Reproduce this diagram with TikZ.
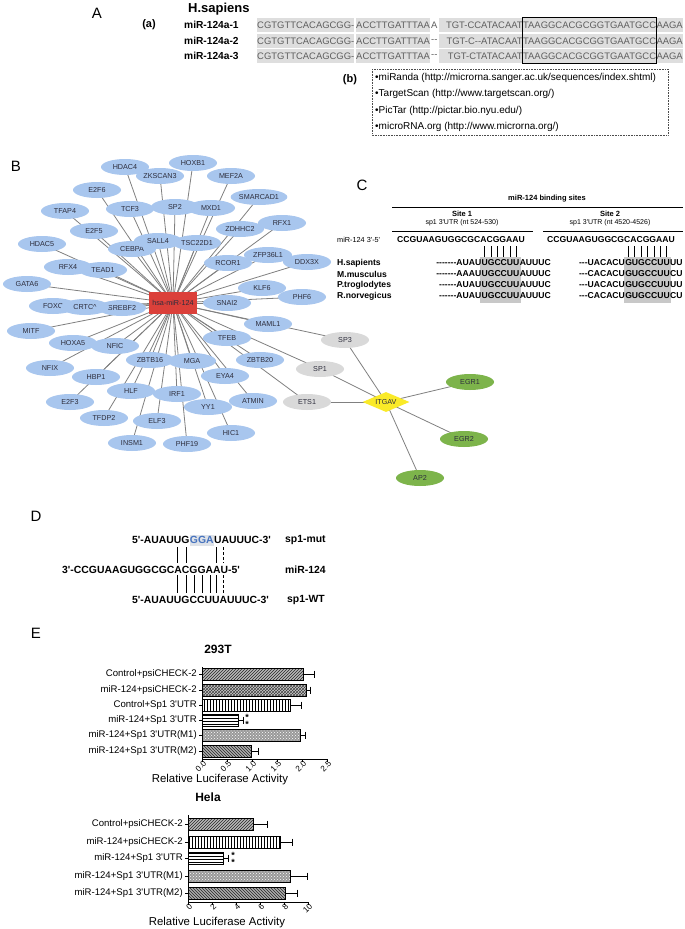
\documentclass[tikz,border=0pt]{standalone}
\usepackage{fontspec}
\setmainfont{Liberation Sans}[Ligatures=TeXOff]
\usetikzlibrary{shapes.geometric,patterns,calc}
\pgfdeclarelayer{back}
\pgfdeclarelayer{bg}
\pgfsetlayers{back,bg,main}
\newcommand{\myfs}[1]{\fontsize{#1}{#1}\selectfont}
\newcommand{\myq}{\textquotesingle}
\definecolor{nblue}{RGB}{168,198,238}
\definecolor{nred}{RGB}{219,64,58}
\definecolor{ngrey}{RGB}{217,217,217}
\definecolor{ngreen}{RGB}{125,180,75}
\definecolor{nyellow}{RGB}{250,234,40}
\definecolor{ntext}{RGB}{45,45,60}
\definecolor{edgec}{RGB}{128,128,128}
\definecolor{seqbg}{RGB}{222,222,222}
\definecolor{seqtext}{RGB}{95,95,95}
\definecolor{cbox}{RGB}{200,200,200}
\definecolor{mutblue}{RGB}{70,115,190}
\definecolor{mutbg}{RGB}{222,226,232}
\newcommand{\seqrow}[4]{%
 \node[seqs, fill=seqbg] (#1a) at (257,#2) {CGTGTTCACAGCGG-};
 \node[seqs, fill=seqbg] (#1b) at ([xshift=1.5]#1a.east) {ACCTTGATTTAA};
 \node[seqs, minimum width=8] (#1c) at (#1b.east) {#3};
 \node[seqs, fill=seqbg, text width=84, align=right] (#1d) at (#1c.east) {#4};
 \node[seqs, fill=seqbg] (#1e) at (#1d.east) {TAAGGCACGCGGTGAATGCC};
 \node[seqs, fill=seqbg] (#1f) at (#1e.east) {AAGA};}
\newcommand{\lucbar}[5]{%
  \path[#5] (#1,#2-6) rectangle (#3,#2+6);
  \draw[line width=0.8] (#1,#2-6) rectangle (#3,#2+6);
  \draw[line width=1] (#3,#2) -- (#4,#2) (#4,#2-3.5) -- (#4,#2+3.5);}
\begin{document}
\begin{tikzpicture}[x=1pt,y=-1pt,
  gn/.style={ellipse, fill=nblue, minimum width=48, minimum height=16, inner sep=0, font=\myfs{7.2}, text=ntext},
  grn/.style={gn, fill=ngrey},
  ggn/.style={gn, fill=ngreen},
  edge/.style={draw=edgec, line width=0.8},
  plab/.style={font=\myfs{15}, inner sep=0},
  seqs/.style={font=\myfs{9.45}, text=seqtext, inner xsep=0, inner ysep=0, minimum height=14, anchor=west},
  rowlab/.style={font=\bfseries\myfs{10.2}, anchor=west, inner sep=0},
  bitem/.style={font=\myfs{10}, anchor=west, inner sep=0},
  cs/.style={font=\bfseries\myfs{8.6}, inner sep=0, minimum height=10.5},
  dseq/.style={font=\bfseries\myfs{10.4}, inner sep=0},
  cat/.style={font=\myfs{9.6}, anchor=east, inner sep=0},
  tickl/.style={font=\myfs{8.2}, anchor=east, rotate=45, inner sep=0},
  pa/.style={preaction={fill=gray!55}, pattern=north east lines, pattern color=black!85},
  pb/.style={preaction={fill=gray!40}, pattern=crosshatch, pattern color=black!75},
  pc/.style={pattern=vertical lines},
  pd/.style={pattern=horizontal lines},
  pe/.style={preaction={fill=gray!80}, pattern=crosshatch dots, pattern color=white},
  pf/.style={preaction={fill=gray!65}, pattern=north west lines, pattern color=black!85}]
\useasboundingbox (0,0) rectangle (685,929);
\begin{pgfonlayer}{back}
\fill[white] (0,0) rectangle (685,929);
\end{pgfonlayer}

% ---------------- Panel A
\node[plab] (lA) at (97,13) {A};
\node[font=\bfseries\myfs{13}, anchor=west, inner sep=0] (hs) at (188,9) {H.sapiens};
\node[font=\bfseries\myfs{11}, inner sep=0] (pa) at (149,25) {(a)};
\node[rowlab] (l1) at (184,25) {miR-124a-1};
\node[rowlab] (l2) at (184,41) {miR-124a-2};
\node[rowlab] (l3) at (184,56) {miR-124a-3};
\seqrow{ra}{25}{A}{TGT-CCATACAAT}
\seqrow{rb}{41}{--}{TGT-C--ATACAAT}
\seqrow{rc}{56}{--}{TGT-CTATACAAT}
\draw[line width=0.9] (rae.north west) rectangle (rce.south east);
\node[font=\bfseries\myfs{11}, inner sep=0] (pb) at (350,80) {(b)};
\draw[densely dotted, line width=0.6, black!70] (372,69) rectangle (668,135);
\node[bitem] (b1) at (375,78) {•miRanda (http://microrna.sanger.ac.uk/sequences/index.shtml)};
\node[bitem] (b2) at (375,94) {•TargetScan (http://www.targetscan.org/)};
\node[bitem] (b3) at (375,110.5) {•PicTar (http://pictar.bio.nyu.edu/)};
\node[bitem] (b4) at (375,127) {•microRNA.org (http://www.microrna.org/)};

% ---------------- Panel B
\node[plab] (lB) at (16,166) {B};
\foreach \n/\x/\y in {HDAC4/125/167, ZKSCAN3/160/176, HOXB1/193/163, MEF2A/231/176,
  E2F6/97/190, SMARCAD1/259/197, TCF3/130/209, SP2/175/207, MXD1/211/208, TFAP4/65/211,
  RFX1/282/223, ZDHHC2/240/229, E2F5/94/231, HDAC5/42/244, CEBPA/132/249, SALL4/158/241,
  TSC22D1/197/243, ZFP36L1/268/255, DDX3X/307/262, RCOR1/228/263, RFX4/68/267, TEAD1/103/270,
  GATA6/27/284, KLF6/262/288, PHF6/302/297, SNAI2/227/303, FOXC/53/306, SREBF2/122/308,
  MAML1/268/324, MITF/31/331, TFEB/227/338, HOXA5/73/343, NFIC/115/346, ZBTB16/150/360,
  MGA/192/361, ZBTB20/260/360, NFIX/50/368, HBP1/96/377, EYA4/225/376, HLF/131/391,
  IRF1/177/394, E2F3/70/402, ATMIN/253/401, YY1/208/407, TFDP2/104/418, ELF3/157/421,
  HIC1/231/433, INSM1/132/443, PHF19/187/444}
  \node[gn] (\n) at (\x,\y) {\n};
\node[gn] (CRTC) at (85,307) {CRTC\textasciicircum};
\node[rectangle, fill=nred, minimum width=48, minimum height=22, inner sep=0, font=\myfs{7.2}, text=ntext] (mir) at (173,303) {hsa-miR-124};
\node[grn] (SP3) at (345,340) {SP3};
\node[grn] (SP1) at (320,369) {SP1};
\node[grn] (ETS1) at (307,402) {ETS1};
\node[diamond, aspect=2.3, fill=nyellow, minimum width=47, minimum height=20, inner sep=0, font=\myfs{7.2}, text=ntext] (ITGAV) at (386,402) {ITGAV};
\node[ggn] (EGR1) at (470,382) {EGR1};
\node[ggn] (EGR2) at (464,439) {EGR2};
\node[ggn] (AP2) at (420,478) {AP2};
\begin{pgfonlayer}{bg}
\foreach \n in {HDAC4, ZKSCAN3, HOXB1, MEF2A, E2F6, SMARCAD1, TCF3, SP2, MXD1, TFAP4,
  RFX1, ZDHHC2, E2F5, HDAC5, CEBPA, SALL4, TSC22D1, ZFP36L1, DDX3X, RCOR1, RFX4, TEAD1,
  GATA6, KLF6, PHF6, SNAI2, FOXC, CRTC, SREBF2, MAML1, MITF, TFEB, HOXA5, NFIC, ZBTB16,
  MGA, ZBTB20, NFIX, HBP1, EYA4, HLF, IRF1, E2F3, ATMIN, YY1, TFDP2, ELF3, HIC1, INSM1,
  PHF19, SP3, SP1, ETS1}
  \draw[edge] (mir.center) -- (\n.center);
\foreach \n in {SP3, SP1, ETS1, EGR1, EGR2, AP2}
  \draw[edge] (ITGAV.center) -- (\n.center);
\end{pgfonlayer}

% ---------------- Panel C
\node[plab] (lC) at (362,185) {C};
\node[font=\bfseries\myfs{7.5}] (cth) at (547,199) {miR-124 binding sites};
\draw[line width=0.8] (392,207) -- (683,207);
\node[font=\bfseries\myfs{7.5}] (st1) at (462,213.5) {Site 1};
\node[font=\myfs{7}] (st1b) at (462,222.5) {sp1 3\myq UTR (nt 524-530)};
\node[font=\bfseries\myfs{7.5}] (st2) at (610,213.5) {Site 2};
\node[font=\myfs{7}] (st2b) at (610,222.5) {sp1 3\myq UTR (nt 4520-4526)};
\draw[line width=0.8] (392,231) -- (533,231);
\draw[line width=0.8] (543,231) -- (683,231);
\node[font=\myfs{7.3}, anchor=west, inner sep=0] (cmirl) at (337,240) {miR-124 3\myq-5\myq};
\node[cs, anchor=west] (cm1) at (397,240) {CCGUAAGUGGCGCACGGAAU};
\node[cs, anchor=west] (cm2) at (547,240) {CCGUAAGUGGCGCACGGAAU};
\foreach \s/\y [count=\k] in {H.sapients/263, M.musculus/274, P.troglodytes/285, R.norvegicus/296}
  \node[cs, anchor=west] (sp\k) at (337,\y) {\s};
\foreach \k/\y/\pre in {1/263/-------AUAU, 2/274/-------AAAU, 3/285/------AUAU, 4/296/------AUAU} {
  \node[cs] (sa\k) at (500.5,\y) {UGCCUU};
  \node[cs, anchor=east] (sap\k) at (sa\k.west) {\pre};
  \node[cs, anchor=west] (sas\k) at (sa\k.east) {AUUUC};}
\foreach \k/\y/\pre/\suf in {1/263/---UACACU/UU, 2/274/---CACACU/CU, 3/285/---UACACU/UU, 4/296/---CACACU/CU} {
  \node[cs] (sb\k) at (647.5,\y) {GUGCCUU};
  \node[cs, anchor=east] (sbp\k) at (sb\k.west) {\pre};
  \node[cs, anchor=west] (sbs\k) at (sb\k.east) {\suf};}
\begin{pgfonlayer}{bg}
\fill[cbox] ([xshift=-1]sa1.west |- 0,257) rectangle ([xshift=1]sa4.east |- 0,303);
\fill[cbox] ([xshift=-1]sb1.west |- 0,257) rectangle ([xshift=1]sb4.east |- 0,303);
\end{pgfonlayer}
\foreach \i [evaluate=\i as \f using (\i-0.5)/6] in {1,...,6} {
  \path ($(sa1.west)!\f!(sa1.east)$) coordinate (ta\i);
  \draw[line width=0.7] (ta\i |- 0,246) -- (ta\i |- 0,257);}
\foreach \i [evaluate=\i as \f using (\i-0.5)/7] in {1,...,7} {
  \path ($(sb1.west)!\f!(sb1.east)$) coordinate (tb\i);
  \draw[line width=0.7] (tb\i |- 0,246) -- (tb\i |- 0,257);}

% ---------------- Panel D
\node[plab] (lD) at (36,516) {D};
\node[dseq, anchor=west] (dm1) at (132,540) {5\myq-AUAUUG};
\node[dseq, anchor=west, text=mutblue, fill=mutbg, minimum height=11] (dm2) at (dm1.east) {GGA};
\node[dseq, anchor=west] (dm3) at (dm2.east) {UAUUUC-3\myq};
\node[dseq, anchor=west] (dml) at (285,540) {sp1-mut};
\node[dseq, anchor=west] (dmir) at (62,570) {3\myq-CCGUAAGUGGCGCACGGAAU-5\myq};
\node[dseq, anchor=west] (dmirl) at (285,570) {miR-124};
\node[dseq, anchor=west] (dwt) at (132,600) {5\myq-AUAUUGCCUUAUUUC-3\myq};
\node[dseq, anchor=west] (dwtl) at (287,600) {sp1-WT};
\foreach \x in {177,186,216} \draw[line width=0.7] (\x,547) -- (\x,563);
\draw[line width=0.7, densely dashed] (223,547) -- (223,563);
\foreach \x in {177,186,194,202,210,216.5} \draw[line width=0.7] (\x,575) -- (\x,593);
\draw[line width=0.7, densely dashed] (223,575) -- (223,593);

% ---------------- Panel E : 293T
\node[plab] (lE) at (36,633) {E};
\node[font=\bfseries\myfs{12}] (t293) at (218,649) {293T};
\lucbar{202}{674}{303}{314}{pa}
\lucbar{202}{690}{306}{310}{pb}
\lucbar{202}{705}{290}{301}{pc}
\lucbar{202}{720}{238}{243}{pd}
\lucbar{202}{735}{300}{305}{pe}
\lucbar{202}{751}{251}{258}{pf}
\draw[line width=0.9] (202,667) -- (202,759) -- (327,759);
\foreach \y in {674,690,705,720,735,751} \draw[line width=0.8] (199,\y) -- (202,\y);
\foreach \i/\l in {0/0.0,1/0.5,2/1.0,3/1.5,4/2.0,5/2.5} {
  \draw[line width=0.8] (202+25*\i,759) -- (202+25*\i,762);
  \node[tickl] at (202+25*\i+3,762) {\l};}
\node[cat] (c1) at (197,674) {Control+psiCHECK-2};
\node[cat] (c2) at (197,690) {miR-124+psiCHECK-2};
\node[cat] (c3) at (197,705) {Control+Sp1 3\myq UTR};
\node[cat] (c4) at (197,720) {miR-124+Sp1 3\myq UTR};
\node[cat] (c5) at (197,735) {miR-124+Sp1 3\myq UTR(M1)};
\node[cat] (c6) at (197,751) {miR-124+Sp1 3\myq UTR(M2)};
\node[font=\bfseries\myfs{9}, inner sep=0] (st1a) at (247,717.5) {*};
\node[font=\bfseries\myfs{9}, inner sep=0] (st1b) at (247,724.5) {*};
\node[font=\myfs{11.4}, inner sep=0] (xl1) at (220,780) {Relative Luciferase Activity};

% ---------------- Panel E : Hela
\node[font=\bfseries\myfs{12}] (thela) at (208,797) {Hela};
\lucbar{188}{824}{253}{267}{pa}
\lucbar{188}{842}{280}{292}{pc}
\lucbar{188}{858}{223}{228}{pd}
\lucbar{188}{876}{290}{307}{pe}
\lucbar{188}{893}{285}{297}{pf}
\draw[line width=0.9] (188,815) -- (188,902) -- (308,902);
\foreach \y in {824,842,858,876,893} \draw[line width=0.8] (185,\y) -- (188,\y);
\foreach \i in {0,2,4,6,8,10} {
  \draw[line width=0.8] (188+12*\i,902) -- (188+12*\i,905);
  \node[tickl] at (188+12*\i+3,905) {\i};}
\node[cat] (h1) at (183,824) {Control+psiCHECK-2};
\node[cat] (h2) at (183,842) {miR-124+psiCHECK-2};
\node[cat] (h3) at (183,858) {miR-124+Sp1 3\myq UTR};
\node[cat] (h4) at (183,876) {miR-124+Sp1 3\myq UTR(M1)};
\node[cat] (h5) at (183,893) {miR-124+Sp1 3\myq UTR(M2)};
\node[font=\bfseries\myfs{9}, inner sep=0] (st2a) at (233,855.5) {*};
\node[font=\bfseries\myfs{9}, inner sep=0] (st2b) at (233,862.5) {*};
\node[font=\myfs{11.4}, inner sep=0] (xl2) at (217,923) {Relative Luciferase Activity};
\end{tikzpicture}
\end{document}
